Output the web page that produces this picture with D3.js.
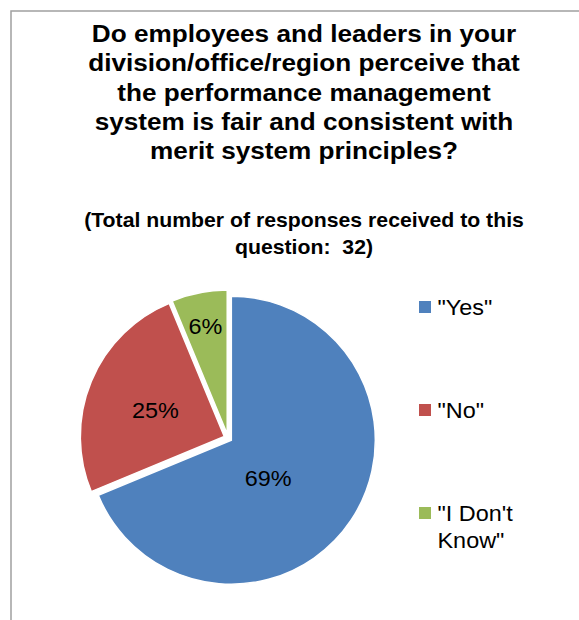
<!DOCTYPE html>
<html>
<head>
<meta charset="utf-8">
<script src="https://cdn.jsdelivr.net/npm/d3@7"></script>
<style>
  html, body { margin: 0; padding: 0; background: #fff; }
  svg { display: block; }
  text { font-family: "Liberation Sans", Arial, sans-serif; fill: #000; white-space: pre; }
</style>
</head>
<body>
<div id="chart"></div>
<script>
// ---- data ----
const categories = ['"Yes"', '"No"', '"I Don\'t Know"'];
const counts = [22, 8, 2];
const titleLines = [
  "Do employees and leaders in your",
  "division/office/region perceive that",
  "the performance management",
  "system is fair and consistent with",
  "merit system principles?"
];
const subtitleLines = [
  "(Total number of responses received to this",
  "question:  32)"
];

// ---- layout / style ----
const W = 579, H = 620;
const colors = ["#4F81BD", "#C0504D", "#9BBB59"];
const stretch = 1.09;           // horizontal text stretch of the original
const cx = 228, cy = 438, R = 144, explode = 4;
// label placement per slice: [angle (deg, clockwise from top), radius fraction]
const labelPolar = [[135, 0.395], [291, 0.54], [348.5, 0.79]];

const svg = d3.select("#chart").append("svg").attr("width", W).attr("height", H);

// frame
svg.append("rect").attr("x", 11).attr("y", 11).attr("width", 800).attr("height", 800)
  .attr("fill", "none").attr("stroke", "#a0a0a0").attr("stroke-width", 1.5);

function stext(g, str, x, y, size, weight, anchor) {
  return g.append("text")
    .attr("transform", `translate(${x},${y}) scale(${stretch},1)`)
    .attr("text-anchor", anchor || "middle")
    .attr("xml:space", "preserve")
    .style("font-size", size + "px")
    .style("font-weight", weight || "normal")
    .text(str);
}

// title
titleLines.forEach((t, i) => stext(svg, t, 304, 42 + i * 29.25, 24, "bold"));
subtitleLines.forEach((t, i) => stext(svg, t, 304, 227 + i * 26.5, 19.5, "bold"));

// pie
const total = d3.sum(counts);
const pie = d3.pie().sort(null).value(d => d)(counts);
const arc = d3.arc().innerRadius(0).outerRadius(R);
const gPie = svg.append("g").attr("transform", `translate(${cx},${cy})`);

pie.forEach((p, i) => {
  const mid = (p.startAngle + p.endAngle) / 2;
  const dx = explode * Math.sin(mid), dy = -explode * Math.cos(mid);
  gPie.append("path")
    .attr("d", arc(p))
    .attr("transform", `translate(${dx},${dy})`)
    .attr("fill", colors[i])
    .attr("stroke", "#fff").attr("stroke-width", 1.5);
});

pie.forEach((p, i) => {
  const a = labelPolar[i][0] * Math.PI / 180;
  const r = labelPolar[i][1] * R;
  const x = r * Math.sin(a), y = -r * Math.cos(a);
  stext(gPie, Math.round(counts[i] / total * 100) + "%", x, y + 7.7, 21.5, "normal");
});

// legend
const legendY = [301, 404, 507];
const gLeg = svg.append("g");
categories.forEach((c, i) => {
  gLeg.append("rect").attr("x", 419).attr("y", legendY[i]).attr("width", 12).attr("height", 12)
    .attr("fill", colors[i]);
  const words = c.split(" ");
  let lines = [c];
  if (words.length > 2) lines = [words.slice(0, 2).join(" "), words.slice(2).join(" ")];
  lines.forEach((ln, j) => stext(gLeg, ln, 437.5, legendY[i] + 13.5 + j * 27.6, 21.5, "normal", "start"));
});
</script>
</body>
</html>
